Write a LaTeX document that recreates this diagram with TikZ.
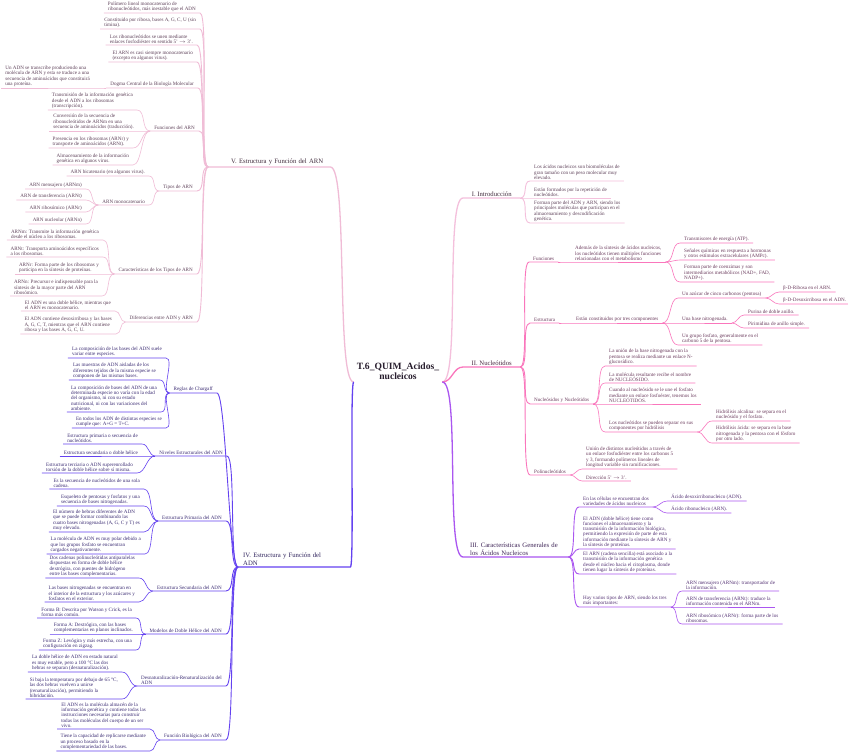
\documentclass[tikz,border=0pt]{standalone}
\usepackage{fontspec}
\setmainfont{Liberation Serif}
\definecolor{ARNc}{RGB}{240,188,214}
\definecolor{INTc}{RGB}{244,192,220}
\definecolor{NUCc}{RGB}{250,118,188}
\definecolor{CARc}{RGB}{170,86,240}
\definecolor{ADNc}{RGB}{100,66,240}
\definecolor{ARNt}{RGB}{95,66,90}
\definecolor{NUCt}{RGB}{108,60,94}
\definecolor{CARt}{RGB}{84,50,116}
\definecolor{ADNt}{RGB}{60,45,116}
\definecolor{ROOTt}{RGB}{40,30,46}
\newcommand{\leaffont}{\fontsize{5.1}{5.3}\selectfont}
\newcommand{\topicfont}{\fontsize{6.7}{7.4}\selectfont}
\newcommand{\rootfont}{\fontsize{9.6}{10.2}\selectfont\bfseries}
\tikzset{
  leaf/.style={font=\leaffont,align=left,inner xsep=4pt,inner ysep=1.2pt},
  lleaf/.style={leaf,anchor=south east},
  rleaf/.style={leaf,anchor=south west},
  tarn/.style={text=ARNt},
  tnuc/.style={text=NUCt},
  tcar/.style={text=CARt},
  tadn/.style={text=ADNt},
  topic/.style={font=\topicfont,inner xsep=7pt,inner ysep=1.6pt,anchor=south west},
  rootnode/.style={font=\rootfont,align=center,anchor=south,inner xsep=3pt,inner ysep=2pt,text=ROOTt},
  link/.style={out=0,in=180,max distance=9pt,line width=0.6pt},
  sublink/.style={link,line width=0.9pt},
  mainlink/.style={out=0,in=180,max distance=18pt,line width=1.3pt}
}

\begin{document}
\begin{tikzpicture}[x=1pt,y=-1pt]
\fill[white] (0,0) rectangle (848,752);
\useasboundingbox (0,0) rectangle (848,752);
% centre and main topics
\node[rootnode] (root) at (398,382) {T.6\_QUIM\_Acidos\_\\nucleicos};
\node[topic,text=ARNt!70!black,text width=108pt,align=right] (V) at (208,167) {V. Estructura y Función del ARN};
\node[topic,text=ADNt!80!black,text width=102pt,align=left,inner xsep=5pt] (IV) at (238,567) {IV. Estructura y Función del\\ADN};
\node[topic,text=ARNt!70!black,minimum width=57pt] (I) at (463,198) {I. Introducción};
\node[topic,text=NUCt!70!black,minimum width=57pt] (II) at (463,367) {II. Nucleótidos};
\node[topic,text=CARt!75!black,text width=91pt,align=left] (III) at (463,557) {III. Características Generales de\\los Ácidos Nucleicos};
% V. Estructura y Funcion del ARN
\node[lleaf,tarn] (v1) at (200,13) {Polímero lineal monocatenario de\\ribonucleótidos, más inestable que el ADN};
\node[lleaf,tarn] (v2) at (200,29) {Constituido por ribosa, bases A, G, C, U (sin\\timina).};
\node[lleaf,tarn] (v3) at (197,45) {Los ribonucleótidos se unen mediante\\enlaces fosfodiéster en sentido 5'~$\rightarrow$~3'.};
\node[lleaf,tarn] (v4) at (197,62) {El ARN es casi siempre monocatenario\\(excepto en algunos virus).};
\node[lleaf,tarn] (v5) at (198,88) {Dogma Central de la Biología Molecular};
\node[lleaf,tarn] (v5a) at (94,88) {Un ADN se transcribe produciendo una\\molécula de ARN y esta se traduce a una\\secuencia de aminoácidos que constituirá\\una proteína.};
\node[lleaf,tarn] (v6) at (199,131) {Funciones del ARN};
\node[lleaf,tarn] (v6a) at (137,110) {Transmisión de la información genética\\desde el ADN a los ribosomas\\(transcripción).};
\node[lleaf,tarn] (v6b) at (138,131) {Conversión de la secuencia de\\ribonucleótidos de ARNm en una\\secuencia de aminoácidos (traducción).};
\node[lleaf,tarn] (v6c) at (133,148) {Presencia en los ribosomas (ARNr) y\\transporte de aminoácidos (ARNt).};
\node[lleaf,tarn] (v6d) at (133,165) {Almacenamiento de la información\\genética en algunos virus.};
\node[lleaf,tarn] (v7) at (197,191) {Tipos de ARN};
\node[lleaf,tarn] (v7a) at (149,176) {ARN bicatenario (en algunos virus).};
\node[lleaf,tarn] (v7b) at (149,205) {ARN monocatenario};
\node[lleaf,tarn] (v7b1) at (86,189) {ARN mensajero (ARNm)};
\node[lleaf,tarn] (v7b2) at (86,200) {ARN de transferencia (ARNt)};
\node[lleaf,tarn] (v7b3) at (86,212) {ARN ribosómico (ARNr)};
\node[lleaf,tarn] (v7b4) at (86,224) {ARN nucleolar (ARNn)};
\node[lleaf,tarn] (v8) at (197,274) {Características de los Tipos de ARN};
\node[lleaf,tarn] (v8a) at (103,240) {ARNm: Transmite la información genética\\desde el núcleo a los ribosomas.};
\node[lleaf,tarn] (v8b) at (103,257) {ARNt: Transporta aminoácidos específicos\\a los ribosomas.};
\node[lleaf,tarn] (v8c) at (103,274) {ARNr: Forma parte de los ribosomas y\\participa en la síntesis de proteínas.};
\node[lleaf,tarn] (v8d) at (102,296) {ARNn: Precursor e indispensable para la\\síntesis de la mayor parte del ARN\\ribosómico.};
\node[lleaf,tarn] (v9) at (197,322) {Diferencias entre ADN y ARN};
\node[lleaf,tarn] (v9a) at (115,311) {El ADN es una doble hélice, mientras que\\el ARN es monocatenario.};
\node[lleaf,tarn] (v9b) at (116,334) {El ADN contiene desoxirribosa y las bases\\A, G, C, T, mientras que el ARN contiene\\ribosa y las bases A, G, C, U.};
% IV. Estructura y Funcion del ADN
\node[lleaf,tadn] (d1) at (217,393) {Reglas de Chargaff};
\node[lleaf,tadn] (d1a) at (166,358) {La composición de las bases del ADN suele\\variar entre especies.};
\node[lleaf,tadn] (d1b) at (160,380) {Las muestras de ADN aisladas de los\\diferentes tejidos de la misma especie se\\componen de las mismas bases.};
\node[lleaf,tadn] (d1c) at (161,412) {La composición de bases del ADN de una\\determinada especie no varía con la edad\\del organismo, ni con su estado\\nutricional, ni con las variaciones del\\ambiente.};
\node[lleaf,tadn] (d1d) at (166,428) {En todos los ADN de distintas especies se\\cumple que: A+G = T+C.};
\node[lleaf,tadn] (d2) at (227,456) {Niveles Estructurales del ADN};
\node[lleaf,tadn] (d2a) at (142,444) {Estructura primaria o secuencia de\\nucleótidos.};
\node[lleaf,tadn] (d2b) at (142,456) {Estructura secundaria o doble hélice};
\node[lleaf,tadn] (d2c) at (137,473) {Estructura terciaria o ADN superenrollado\\torsión de la doble hélice sobre sí misma.};
\node[lleaf,tadn] (d3) at (226,521) {Estructura Primaria del ADN};
\node[lleaf,tadn] (d3a) at (144,489) {Es la secuencia de nucleótidos de una sola\\cadena.};
\node[lleaf,tadn] (d3b) at (144,506) {Esqueleto de pentosas y fosfatos y una\\secuencia de bases nitrogenadas.};
\node[lleaf,tadn] (d3c) at (144,532) {El número de hebras diferentes de ADN\\que se puede formar combinando las\\cuatro bases nitrogenadas (A, G, C y T) es\\muy elevado.};
\node[lleaf,tadn] (d3d) at (145,554) {La molécula de ADN es muy polar debido a\\que los grupos fosfato se encuentran\\cargados negativamente.};
\node[lleaf,tadn] (d4) at (226,591) {Estructura Secundaria del ADN};
\node[lleaf,tadn] (d4a) at (139,578) {Dos cadenas polinucleótidas antiparalelas\\dispuestas en forma de doble hélice\\dextrógira, con puentes de hidrógeno\\entre las bases complementarias.};
\node[lleaf,tadn] (d4b) at (139,602) {Las bases nitrogenadas se encuentran en\\el interior de la estructura y los azúcares y\\fosfatos en el exterior.};
\node[lleaf,tadn] (d5) at (226,634) {Modelos de Doble Hélice del ADN};
\node[lleaf,tadn] (d5a) at (136,618) {Forma B: Descrita por Watson y Crick, es la\\forma más común.};
\node[lleaf,tadn] (d5b) at (137,634) {Forma A: Dextrógira, con las bases\\complementarias en planos inclinados.};
\node[lleaf,tadn] (d5c) at (136,650) {Forma Z: Levógira y más estrecha, con una\\configuración en zigzag.};
\node[lleaf,tadn] (d6) at (226,686) {Desnaturalización-Renaturalización del\\ADN};
\node[lleaf,tadn] (d6a) at (122,672) {La doble hélice de ADN en estado natural\\es muy estable, pero a 100 °C las dos\\hebras se separan (desnaturalización).};
\node[lleaf,tadn] (d6b) at (122,699) {Si baja la temperatura por debajo de 65 °C,\\las dos hebras vuelven a unirse\\(renaturalización), permitiendo la\\hibridación.};
\node[lleaf,tadn] (d7) at (226,740) {Función Biológica del ADN};
\node[lleaf,tadn] (d7a) at (150,729) {El ADN es la molécula almacén de la\\información genética y contiene todas las\\instrucciones necesarias para construir\\todas las moléculas del cuerpo de un ser\\vivo.};
\node[lleaf,tadn] (d7b) at (150,751) {Tiene la capacidad de replicarse mediante\\un proceso basado en la\\complementariedad de las bases.};
% I. Introduccion
\node[rleaf,tarn] (i1) at (530,181) {Los ácidos nucleicos son biomoléculas de\\gran tamaño con un peso molecular muy\\elevado.};
\node[rleaf,tarn] (i2) at (530,198) {Están formados por la repetición de\\nucleótidos.};
\node[rleaf,tarn] (i3) at (530,223) {Forman parte del ADN y ARN, siendo los\\principales moléculas que participan en el\\almacenamiento y descodificación\\genética.};
% II. Nucleotidos
\node[rleaf,tnuc] (n1) at (529,262) {Funciones};
\node[rleaf,tnuc] (n1a) at (571,262) {Además de la síntesis de ácidos nucleicos,\\los nucleótidos tienen múltiples funciones\\relacionadas con el metabolismo};
\node[rleaf,tnuc] (n1a1) at (680,243) {Transmisores de energía (ATP).};
\node[rleaf,tnuc] (n1a2) at (680,260) {Señales químicas en respuesta a hormonas\\y otros estímulos extracelulares (AMPc).};
\node[rleaf,tnuc] (n1a3) at (680,282) {Forman parte de coenzimas y son\\intermediarios metabólicos (NAD+, FAD,\\NADP+).};
\node[rleaf,tnuc] (n2) at (530,323) {Estructura};
\node[rleaf,tnuc] (n2a) at (572,323) {Están constituidos por tres componentes};
\node[rleaf,tnuc] (n2a1) at (678,298) {Un azúcar de cinco carbonos (pentosa)};
\node[rleaf,tnuc] (n2a1a) at (779,292) {β-D-Ribosa en el ARN.};
\node[rleaf,tnuc] (n2a1b) at (779,304) {β-D-Desoxirribosa en el ADN.};
\node[rleaf,tnuc] (n2a2) at (678,323) {Una base nitrogenada.};
\node[rleaf,tnuc] (n2a2a) at (744,315) {Purina de doble anillo.};
\node[rleaf,tnuc] (n2a2b) at (744,328) {Pirimidina de anillo simple.};
\node[rleaf,tnuc] (n2a3) at (678,345) {Un grupo fosfato, generalmente en el\\carbono 5 de la pentosa.};
\node[rleaf,tnuc] (n3) at (530,404) {Nucleósidos y Nucleótidos};
\node[rleaf,tnuc] (n3a) at (605,366) {La unión de la base nitrogenada con la\\pentosa se realiza mediante un enlace N-\\glucosídico.};
\node[rleaf,tnuc] (n3b) at (605,383) {La molécula resultante recibe el nombre\\de NUCLEÓSIDO.};
\node[rleaf,tnuc] (n3c) at (605,404) {Cuando al nucleósido se le une el fosfato\\mediante un enlace fosfoéster, tenemos los\\NUCLEÓTIDOS.};
\node[rleaf,tnuc] (n3d) at (605,432) {Los nucleótidos se pueden separar en sus\\componentes por hidrólisis};
\node[rleaf,tnuc] (n3d1) at (712,421) {Hidrólisis alcalina: se separa en el\\nucleósido y el fosfato.};
\node[rleaf,tnuc] (n3d2) at (712,443) {Hidrólisis ácida: se separa en la base\\nitrogenada y la pentosa con el fósforo\\por otro lado.};
\node[rleaf,tnuc] (n4) at (530,475) {Polinucleótidos};
\node[rleaf,tnuc] (n4a) at (582,469) {Unión de distintos nucleótidos a través de\\un enlace fosfodiéster entre los carbonos 5\\y 3, formando polímeros lineales de\\longitud variable sin ramificaciones.};
\node[rleaf,tnuc] (n4b) at (582,481) {Dirección 5'~$\rightarrow$~3'.};
% III. Caracteristicas Generales
\node[rleaf,tcar] (c1) at (579,507) {En las células se encuentran dos\\variedades de ácidos nucleicos};
\node[rleaf,tcar] (c1a) at (667,501) {Ácido desoxirribonucleico (ADN).};
\node[rleaf,tcar] (c1b) at (667,513) {Ácido ribonucleico (ARN).};
\node[rleaf,tcar] (c2) at (579,549) {El ADN (doble hélice) tiene como\\funciones el almacenamiento y la\\transmisión de la información biológica,\\permitiendo la expresión de parte de esta\\información mediante la síntesis de ARN y\\la síntesis de proteínas.};
\node[rleaf,tcar] (c3) at (579,574) {El ARN (cadena sencilla) está asociado a la\\transmisión de la información genética\\desde el núcleo hacia el citoplasma, donde\\tienen lugar la síntesis de proteínas.};
\node[rleaf,tcar] (c4) at (579,607) {Hay varios tipos de ARN, siendo los tres\\más importantes:};
\node[rleaf,tcar] (c4a) at (682,591) {ARN mensajero (ARNm): transportador de\\la información.};
\node[rleaf,tcar] (c4b) at (682,607) {ARN de transferencia (ARNt): traduce la\\información contenida en el ARNm.};
\node[rleaf,tcar] (c4c) at (682,624) {ARN ribosómico (ARNr): forma parte de los\\ribosomas.};
% main branches
\draw[mainlink,draw=ARNc] (V.south west) -- (V.south east) to (root.south west);
\draw[mainlink,draw=ADNc,max distance=4pt] (IV.south west) -- (IV.south east) to (root.south west);
\draw[mainlink,draw=INTc] (root.south east) to (I.south west) -- (I.south east);
\draw[mainlink,draw=NUCc] (root.south east) to (II.south west) -- (II.south east);
\draw[mainlink,draw=CARc] (root.south east) to (III.south west) -- (III.south east);
% V links
\draw[sublink,draw=ARNc] (v1.south west) -- (v1.south east) to (V.south west);
\draw[sublink,draw=ARNc] (v2.south west) -- (v2.south east) to (V.south west);
\draw[sublink,draw=ARNc] (v3.south west) -- (v3.south east) to (V.south west);
\draw[sublink,draw=ARNc] (v4.south west) -- (v4.south east) to (V.south west);
\draw[sublink,draw=ARNc] (v5.south west) -- (v5.south east) to (V.south west);
\draw[sublink,draw=ARNc] (v6.south west) -- (v6.south east) to (V.south west);
\draw[sublink,draw=ARNc] (v7.south west) -- (v7.south east) to (V.south west);
\draw[sublink,draw=ARNc] (v8.south west) -- (v8.south east) to (V.south west);
\draw[sublink,draw=ARNc] (v9.south west) -- (v9.south east) to (V.south west);
\draw[link,draw=ARNc] (v5a.south west) -- (v5a.south east) to (v5.south west);
\draw[link,draw=ARNc] (v6a.south west) -- (v6a.south east) to (v6.south west);
\draw[link,draw=ARNc] (v6b.south west) -- (v6b.south east) to (v6.south west);
\draw[link,draw=ARNc] (v6c.south west) -- (v6c.south east) to (v6.south west);
\draw[link,draw=ARNc] (v6d.south west) -- (v6d.south east) to (v6.south west);
\draw[link,draw=ARNc] (v7a.south west) -- (v7a.south east) to (v7.south west);
\draw[link,draw=ARNc] (v7b.south west) -- (v7b.south east) to (v7.south west);
\draw[link,draw=ARNc] (v7b1.south west) -- (v7b1.south east) to (v7b.south west);
\draw[link,draw=ARNc] (v7b2.south west) -- (v7b2.south east) to (v7b.south west);
\draw[link,draw=ARNc] (v7b3.south west) -- (v7b3.south east) to (v7b.south west);
\draw[link,draw=ARNc] (v7b4.south west) -- (v7b4.south east) to (v7b.south west);
\draw[link,draw=ARNc] (v8a.south west) -- (v8a.south east) to (v8.south west);
\draw[link,draw=ARNc] (v8b.south west) -- (v8b.south east) to (v8.south west);
\draw[link,draw=ARNc] (v8c.south west) -- (v8c.south east) to (v8.south west);
\draw[link,draw=ARNc] (v8d.south west) -- (v8d.south east) to (v8.south west);
\draw[link,draw=ARNc] (v9a.south west) -- (v9a.south east) to (v9.south west);
\draw[link,draw=ARNc] (v9b.south west) -- (v9b.south east) to (v9.south west);
% IV links
\draw[sublink,draw=ADNc] (d1.south west) -- (d1.south east) to (IV.south west);
\draw[sublink,draw=ADNc] (d2.south west) -- (d2.south east) to (IV.south west);
\draw[sublink,draw=ADNc] (d3.south west) -- (d3.south east) to (IV.south west);
\draw[sublink,draw=ADNc] (d4.south west) -- (d4.south east) to (IV.south west);
\draw[sublink,draw=ADNc] (d5.south west) -- (d5.south east) to (IV.south west);
\draw[sublink,draw=ADNc] (d6.south west) -- (d6.south east) to (IV.south west);
\draw[sublink,draw=ADNc] (d7.south west) -- (d7.south east) to (IV.south west);
\draw[link,draw=ADNc] (d1a.south west) -- (d1a.south east) to (d1.south west);
\draw[link,draw=ADNc] (d1b.south west) -- (d1b.south east) to (d1.south west);
\draw[link,draw=ADNc] (d1c.south west) -- (d1c.south east) to (d1.south west);
\draw[link,draw=ADNc] (d1d.south west) -- (d1d.south east) to (d1.south west);
\draw[link,draw=ADNc] (d2a.south west) -- (d2a.south east) to (d2.south west);
\draw[link,draw=ADNc] (d2b.south west) -- (d2b.south east) to (d2.south west);
\draw[link,draw=ADNc] (d2c.south west) -- (d2c.south east) to (d2.south west);
\draw[link,draw=ADNc] (d3a.south west) -- (d3a.south east) to (d3.south west);
\draw[link,draw=ADNc] (d3b.south west) -- (d3b.south east) to (d3.south west);
\draw[link,draw=ADNc] (d3c.south west) -- (d3c.south east) to (d3.south west);
\draw[link,draw=ADNc] (d3d.south west) -- (d3d.south east) to (d3.south west);
\draw[link,draw=ADNc] (d4a.south west) -- (d4a.south east) to (d4.south west);
\draw[link,draw=ADNc] (d4b.south west) -- (d4b.south east) to (d4.south west);
\draw[link,draw=ADNc] (d5a.south west) -- (d5a.south east) to (d5.south west);
\draw[link,draw=ADNc] (d5b.south west) -- (d5b.south east) to (d5.south west);
\draw[link,draw=ADNc] (d5c.south west) -- (d5c.south east) to (d5.south west);
\draw[link,draw=ADNc] (d6a.south west) -- (d6a.south east) to (d6.south west);
\draw[link,draw=ADNc] (d6b.south west) -- (d6b.south east) to (d6.south west);
\draw[link,draw=ADNc] (d7a.south west) -- (d7a.south east) to (d7.south west);
\draw[link,draw=ADNc] (d7b.south west) -- (d7b.south east) to (d7.south west);
% I links
\draw[sublink,draw=INTc] (I.south east) to (i1.south west) -- (i1.south east);
\draw[sublink,draw=INTc] (I.south east) to (i2.south west) -- (i2.south east);
\draw[sublink,draw=INTc] (I.south east) to (i3.south west) -- (i3.south east);
% II links
\draw[sublink,draw=NUCc] (II.south east) to (n1.south west) -- (n1.south east);
\draw[sublink,draw=NUCc] (II.south east) to (n2.south west) -- (n2.south east);
\draw[sublink,draw=NUCc] (II.south east) to (n3.south west) -- (n3.south east);
\draw[sublink,draw=NUCc] (II.south east) to (n4.south west) -- (n4.south east);
\draw[link,draw=NUCc] (n1.south east) to (n1a.south west) -- (n1a.south east);
\draw[link,draw=NUCc] (n1a.south east) to (n1a1.south west) -- (n1a1.south east);
\draw[link,draw=NUCc] (n1a.south east) to (n1a2.south west) -- (n1a2.south east);
\draw[link,draw=NUCc] (n1a.south east) to (n1a3.south west) -- (n1a3.south east);
\draw[link,draw=NUCc] (n2.south east) to (n2a.south west) -- (n2a.south east);
\draw[link,draw=NUCc] (n2a.south east) to (n2a1.south west) -- (n2a1.south east);
\draw[link,draw=NUCc] (n2a.south east) to (n2a2.south west) -- (n2a2.south east);
\draw[link,draw=NUCc] (n2a.south east) to (n2a3.south west) -- (n2a3.south east);
\draw[link,draw=NUCc] (n2a1.south east) to (n2a1a.south west) -- (n2a1a.south east);
\draw[link,draw=NUCc] (n2a1.south east) to (n2a1b.south west) -- (n2a1b.south east);
\draw[link,draw=NUCc] (n2a2.south east) to (n2a2a.south west) -- (n2a2a.south east);
\draw[link,draw=NUCc] (n2a2.south east) to (n2a2b.south west) -- (n2a2b.south east);
\draw[link,draw=NUCc] (n3.south east) to (n3a.south west) -- (n3a.south east);
\draw[link,draw=NUCc] (n3.south east) to (n3b.south west) -- (n3b.south east);
\draw[link,draw=NUCc] (n3.south east) to (n3c.south west) -- (n3c.south east);
\draw[link,draw=NUCc] (n3.south east) to (n3d.south west) -- (n3d.south east);
\draw[link,draw=NUCc] (n3d.south east) to (n3d1.south west) -- (n3d1.south east);
\draw[link,draw=NUCc] (n3d.south east) to (n3d2.south west) -- (n3d2.south east);
\draw[link,draw=NUCc] (n4.south east) to (n4a.south west) -- (n4a.south east);
\draw[link,draw=NUCc] (n4.south east) to (n4b.south west) -- (n4b.south east);
% III links
\draw[sublink,draw=CARc] (III.south east) to (c1.south west) -- (c1.south east);
\draw[sublink,draw=CARc] (III.south east) to (c2.south west) -- (c2.south east);
\draw[sublink,draw=CARc] (III.south east) to (c3.south west) -- (c3.south east);
\draw[sublink,draw=CARc] (III.south east) to (c4.south west) -- (c4.south east);
\draw[link,draw=CARc] (c1.south east) to (c1a.south west) -- (c1a.south east);
\draw[link,draw=CARc] (c1.south east) to (c1b.south west) -- (c1b.south east);
\draw[link,draw=CARc] (c4.south east) to (c4a.south west) -- (c4a.south east);
\draw[link,draw=CARc] (c4.south east) to (c4b.south west) -- (c4b.south east);
\draw[link,draw=CARc] (c4.south east) to (c4c.south west) -- (c4c.south east);
\end{tikzpicture}
\end{document}
